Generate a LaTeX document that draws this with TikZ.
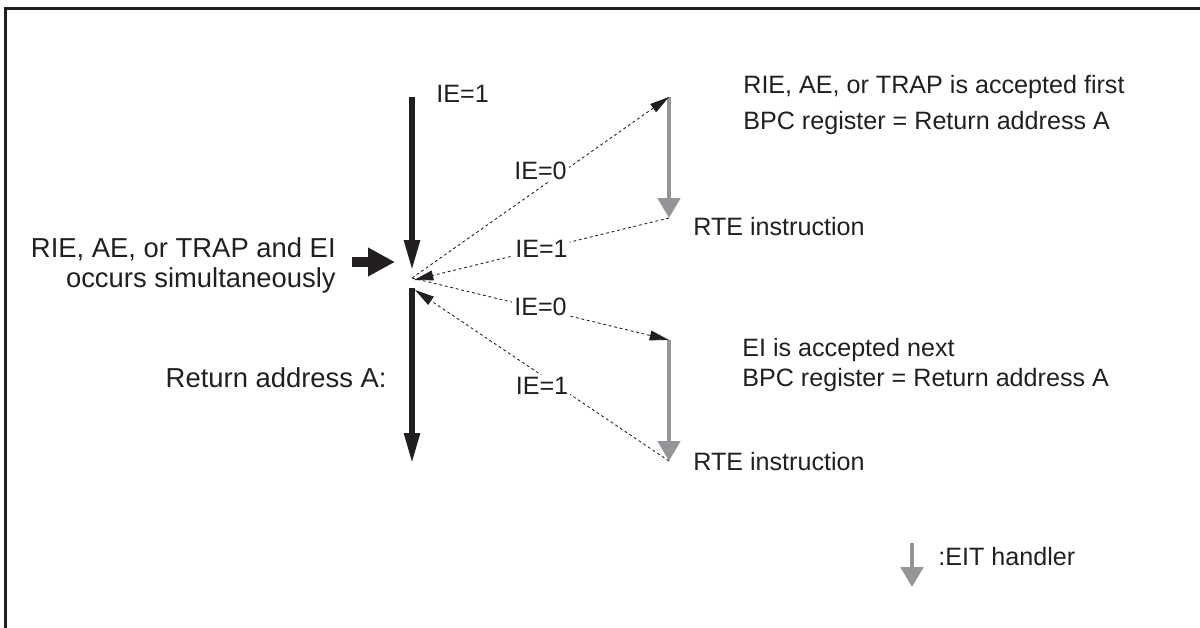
\documentclass[tikz,border=0pt]{standalone}
\usepackage{fontspec}
\setmainfont{Liberation Sans}
\usepackage{tikz}
\usetikzlibrary{arrows.meta, positioning}
\definecolor{flowblack}{HTML}{231F20}
\definecolor{eitgray}{HTML}{939598}
\tikzstyle{flow} = [line width=2.9pt, draw=flowblack, -{Triangle[length=17pt,width=8.6pt]}]
\tikzstyle{handler} = [line width=2.7pt, draw=eitgray, -{Triangle[length=11.3pt,width=12.5pt]}]
\tikzstyle{jump} = [line width=0.5pt, dash pattern=on 1.6pt off 1.6pt, draw=flowblack, -{Triangle[length=11pt,width=5.6pt]}]

\begin{document}
\begin{tikzpicture}[
    x=0.02cm, y=-0.02cm,
    txt/.style={font=\fontsize{14.3}{17}\selectfont, inner sep=0pt, text=flowblack},
    bigtxt/.style={txt, font=\fontsize{15.6}{17}\selectfont},
    ie/.style={txt, fill=white, inner sep=1.2pt},
    event/.style={line width=5.2pt, draw=flowblack, -{Triangle[length=15.3pt,width=15.3pt]}}
]
\useasboundingbox (0,0) rectangle (1200,628);

% Frame
\draw[line width=1.7pt, flowblack] (5.5,700) -- (5.5,8.5) -- (1300,8.5);

% Points
\coordinate (top) at (412,97);
\coordinate (hit) at (412,270);
\coordinate (meet) at (412,278);
\coordinate (back1) at (414,280);
\coordinate (resume) at (412,288);
\coordinate (back2) at (415,290);
\coordinate (bottom) at (412,463);
\coordinate (h1top) at (669,97);
\coordinate (h1end) at (669,218);
\coordinate (h2top) at (669,340);
\coordinate (h2end) at (669,461);
\coordinate (evStart) at (352,262);
\coordinate (evEnd) at (395,262);
\coordinate (legTop) at (912,543);
\coordinate (legEnd) at (912,587);

% Nodes
\node (ieTop) [txt, anchor=west] at (436,94) {IE=1};
\node (simul) [bigtxt, anchor=east, align=right] at (336,265) {RIE, AE, or TRAP and EI\\occurs simultaneously};
\node (retA) [bigtxt, anchor=east] at (387,378) {Return address A:};
\node (firstNote) [txt, anchor=west, align=left] at (743,105) {RIE, AE, or TRAP is accepted first\\[3.7pt]BPC register = Return address A};
\node (rte1) [txt, anchor=west] at (693,227) {RTE instruction};
\node (nextNote) [txt, anchor=west, align=left] at (742,365) {EI is accepted next\\[-0.3pt]BPC register = Return address A};
\node (rte2) [txt, anchor=west] at (693,462) {RTE instruction};
\node (legend) [txt, anchor=west] at (938,557) {:EIT handler};

% Edges
\draw [flow] (top) -- (hit);
\draw [flow] (resume) -- (bottom);
\draw [event] (evStart) -- (evEnd);
\draw [handler] (h1top) -- (h1end);
\draw [handler] (h2top) -- (h2end);
\draw [handler] (legTop) -- (legEnd);
\draw [jump] (meet) -- node[ie, pos=0.5, yshift=9.6pt] {IE=0} (h1top);
\draw [jump] (h1end) -- node[ie, pos=0.5] {IE=1} (back1);
\draw [jump] (meet) -- node[ie, pos=0.5, yshift=1.5pt] {IE=0} (h2top);
\draw [jump] (h2end) -- node[ie, pos=0.5, yshift=-5.7pt] {IE=1} (back2);

\end{tikzpicture}
\end{document}
